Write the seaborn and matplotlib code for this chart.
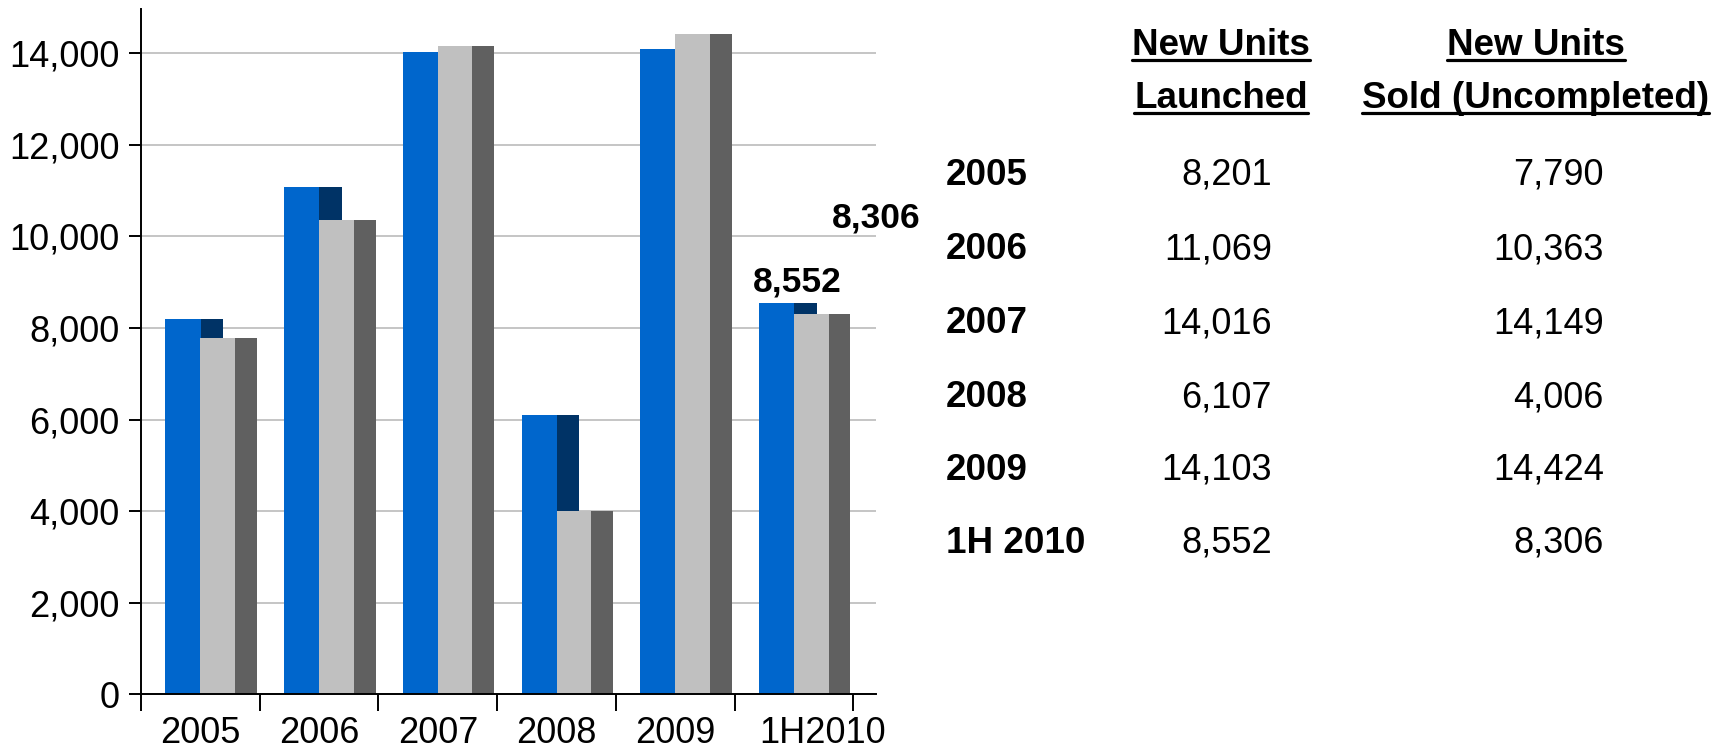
import numpy as np
import matplotlib
matplotlib.use("Agg")
import matplotlib.pyplot as plt
import matplotlib.transforms as mtrans
import seaborn as sns
from matplotlib.ticker import FuncFormatter
from matplotlib.lines import Line2D

# ---------------- data ----------------
categories = ["2005", "2006", "2007", "2008", "2009", "1H2010"]
table_rows = ["2005", "2006", "2007", "2008", "2009", "1H 2010"]
launched = [8201, 11069, 14016, 6107, 14103, 8552]
sold = [7790, 10363, 14149, 4006, 14424, 8306]
header_launched = ["New Units", "Launched"]
header_sold = ["New Units", "Sold (Uncompleted)"]
y_ticks = [0, 2000, 4000, 6000, 8000, 10000, 12000, 14000]

# ---------------- style ----------------
sns.set_theme(style="white")
plt.rcParams['font.family'] = ['Liberation Sans', 'DejaVu Sans']
plt.rcParams['text.color'] = 'black'
plt.rcParams['axes.labelcolor'] = 'black'
plt.rcParams['xtick.color'] = 'black'
plt.rcParams['ytick.color'] = 'black'

BLUE = "#0066CC"
BLUE_SIDE = "#003366"
GRAY = "#C0C0C0"
GRAY_SIDE = "#606060"

W, H = 1728, 751
fig = plt.figure(figsize=(W / 100, H / 100), dpi=100)
ax_left, ax_right, ax_top, ax_bottom = 141, 876, 8.8, 694.3
ax = fig.add_axes([ax_left / W, 1 - ax_bottom / H,
                   (ax_right - ax_left) / W, (ax_bottom - ax_top) / H])


def layer(values, color, width, left_offset):
    n0 = len(ax.patches)
    sns.barplot(x=categories, y=values, order=categories, color=color,
                width=width, saturation=1, errorbar=None, ax=ax)
    for p in ax.patches[n0:]:
        center = p.get_x() + p.get_width() / 2
        p.set_x(center + left_offset)
        p.set_edgecolor("none")
        p.set_linewidth(0)


layer(launched, BLUE_SIDE, 0.19, 0.0)            # blue side face
layer(launched, BLUE, 0.298, -0.295)             # blue front face
layer(sold, GRAY, 0.292, 0.0)                    # gray front face
layer(sold, GRAY_SIDE, 0.185, 0.29)              # gray side face

ax.set_xlim(-0.5, 5.69)
ax.set_ylim(0, 14970)
ax.set_xlabel("")
ax.set_ylabel("")

ax.set_axisbelow(True)
ax.yaxis.grid(True, color="#C0C0C0", linewidth=1.3)
ax.xaxis.grid(False)

ax.set_yticks(y_ticks)
ax.yaxis.set_major_formatter(FuncFormatter(lambda v, p: f"{int(v):,}"))
ax.tick_params(axis="y", left=True, length=8.6, width=1.4, pad=7,
               labelsize=26, color="black", labelcolor="black", direction="out")

ax.set_xticks(range(len(categories)))
ax.set_xticklabels(categories)
ax.set_xticks(np.arange(-0.5, len(categories), 1.0), minor=True)
ax.tick_params(axis="x", which="major", bottom=True, length=0, pad=15.3,
               labelsize=26, labelcolor="black")
ax.tick_params(axis="x", which="minor", bottom=True, length=12, width=1.4,
               color="black", direction="out")

# the last category label sits to the right in the original rendering (pixels)
label_shift = {"1H2010": (28, 0)}
for lbl in ax.get_xticklabels():
    dx, dy = label_shift.get(lbl.get_text(), (0, 0))
    if dx or dy:
        lbl.set_transform(lbl.get_transform() +
                          mtrans.ScaledTranslation(dx / 100, dy / 100, fig.dpi_scale_trans))

for s in ["top", "right"]:
    ax.spines[s].set_visible(False)
for s in ["left", "bottom"]:
    ax.spines[s].set_color("black")
    ax.spines[s].set_linewidth(1.4)

# bar value labels
ax.text(5 + 0.03, launched[-1] + 254, f"{launched[-1]:,}", ha="center",
        va="baseline", fontsize=25.5, fontweight="bold", color="black")
ax.text(5.69, sold[-1] + 1897, f"{sold[-1]:,}", ha="center",
        va="baseline", fontsize=25.5, fontweight="bold", color="black",
        clip_on=False)

# ---------------- table ----------------
def ftext(x, y, s, **kw):
    return fig.text(x / W, 1 - y / H, s, color="black", **kw)

col1_c, col2_c = 1221, 1535.6
hdr_base = [55, 108]
hdr_texts = []
for i in range(2):
    hdr_texts.append((ftext(col1_c, hdr_base[i], header_launched[i], ha="center",
                            va="baseline", fontsize=26.5, fontweight="bold"), hdr_base[i]))
    hdr_texts.append((ftext(col2_c, hdr_base[i], header_sold[i], ha="center",
                            va="baseline", fontsize=26.5, fontweight="bold"), hdr_base[i]))

row_base = [184.6, 259.5, 333.4, 407.2, 480.0, 552.7]
row_x = 945.5
col1_r, col2_r = 1272, 1604
for i, lab in enumerate(table_rows):
    ftext(row_x, row_base[i], lab, ha="left", va="baseline", fontsize=26.5,
          fontweight="bold")
    ftext(col1_r, row_base[i], f"{launched[i]:,}", ha="right", va="baseline",
          fontsize=26)
    ftext(col2_r, row_base[i], f"{sold[i]:,}", ha="right", va="baseline",
          fontsize=26)

fig.canvas.draw()
renderer = fig.canvas.get_renderer()
for t, base in hdr_texts:
    bb = t.get_window_extent(renderer)
    y = 1 - (base + 4.5) / H
    fig.add_artist(Line2D([bb.x0 / W, bb.x1 / W], [y, y], color="black",
                          linewidth=2.3, transform=fig.transFigure))

fig.savefig("out.png", dpi=100)
